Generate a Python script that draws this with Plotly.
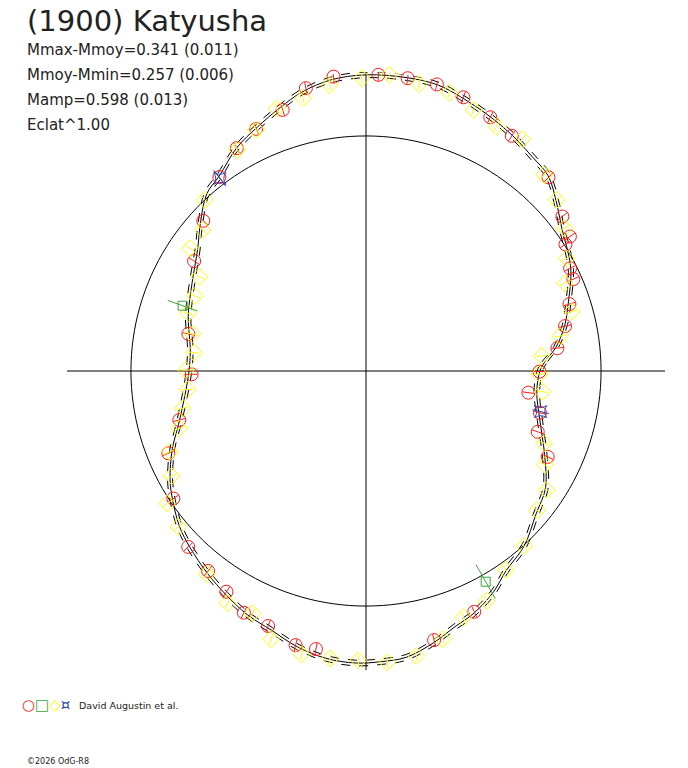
import plotly.graph_objects as go

# Lightcurve shape: phase angle (deg) and relative flux radius (mean circle = 1)
curve_theta = [0, 3, 7, 13, 19, 26, 31, 36, 41, 47, 52, 58, 64, 71, 76, 82, 90,
               97, 103, 108, 114, 120, 127, 132, 139, 144, 153, 163, 173, 180,
               188, 196, 202, 209, 214, 220, 225, 232, 238, 244, 250, 256, 262,
               268, 273, 278, 284, 289, 294, 300, 305, 312, 320, 327, 335, 344,
               353, 360]
curve_r = [0.740, 0.762, 0.813, 0.868, 0.911, 0.970, 1.000, 1.030, 1.077, 1.136,
           1.153, 1.179, 1.204, 1.234, 1.255, 1.260, 1.260, 1.247, 1.217, 1.179,
           1.136, 1.098, 1.038, 1.013, 0.936, 0.885, 0.830, 0.791, 0.753, 0.753,
           0.779, 0.830, 0.889, 0.953, 0.991, 1.034, 1.060, 1.094, 1.123, 1.153,
           1.174, 1.209, 1.234, 1.243, 1.238, 1.230, 1.191, 1.153, 1.128, 1.085,
           1.038, 1.004, 0.945, 0.911, 0.838, 0.770, 0.732, 0.740]
curve_sigma = 0.012

# observations, one list per session
red_theta = [96.3, 102.0, 107.7, 114.4, 120.1, 127.1, 87.6, 81.9, 76.1, 70.4,
             63.9, 58.2, 46.7, 38.2, 33.4, 32.4, 26.7, 23.9, 18.2, 12.7, 6.8,
             359.8, 352.4, 346.5, 340.5, 334.7, 294.2, 284.2, 231.7, 237.7,
             243.2, 249.0, 255.6, 259.8, 181.1, 194.7, 202.6, 213.5, 224.7,
             137.3, 147.4, 168.2]
red_r = [1.260, 1.230, 1.166, 1.131, 1.096, 1.034, 1.261, 1.258, 1.256, 1.236,
         1.202, 1.177, 1.132, 1.063, 1.039, 1.005, 0.972, 0.965, 0.911, 0.868,
         0.820, 0.738, 0.697, 0.761, 0.775, 0.855, 1.123, 1.181, 1.084, 1.111,
         1.152, 1.162, 1.204, 1.202, 0.742, 0.821, 0.911, 0.983, 1.064, 0.942,
         0.868, 0.772]
red_err = 0.026

yellow_theta = [97.2, 103.0, 108.8, 114.5, 120.2, 90.8, 85.5, 79.5, 73.3, 67.6,
                61.9, 56.0, 47.8, 41.9, 35.7, 29.3, 23.8, 16.1, 10.2, 4.9, 359.0,
                353.3, 337.9, 332.3, 326.6, 320.9, 312.1, 305.1, 297.7, 291.6,
                286.0, 231.9, 239.2, 244.9, 250.5, 257.2, 262.9, 268.5, 274.2,
                280.0, 173.9, 179.7, 185.9, 191.5, 197.1, 202.4, 208.4, 213.7,
                219.7, 133.3, 139.2, 145.1, 150.5, 156.3, 162.0, 168.0]
yellow_r = [1.226, 1.191, 1.180, 1.128, 1.088, 1.246, 1.264, 1.242, 1.236, 1.201,
            1.179, 1.190, 1.127, 1.090, 1.040, 0.979, 0.925, 0.911, 0.839, 0.750,
            0.738, 0.757, 0.818, 0.860, 0.921, 0.939, 1.003, 1.035, 1.105, 1.127,
            1.187, 1.098, 1.151, 1.138, 1.210, 1.236, 1.232, 1.231, 1.243, 1.231,
            0.735, 0.766, 0.763, 0.794, 0.831, 0.902, 0.940, 1.016, 1.038, 1.000,
            0.918, 0.913, 0.815, 0.795, 0.795, 0.754]
yellow_err = 0.022

green_theta = [160.4, 299.6]
green_r = [0.828, 1.031]
green_err = [0.067, 0.083]

blue_theta = [127.2, 346.9]
blue_r = [1.029, 0.763]
blue_err = [0.043, 0.036]

R_MAX = 1.272

W, H = 688, 768
cx, cy, rad = 366, 371, 299


def err_segments(theta, r, err):
    tt, rr = [], []
    for i in range(len(theta)):
        e = err[i] if isinstance(err, list) else err
        tt += [theta[i], theta[i], None]
        rr += [r[i] - e, r[i] + e, None]
    return tt, rr


fig = go.Figure()

# crosshair and mean circle
fig.add_trace(go.Scatterpolar(theta=[180, 0], r=[R_MAX, R_MAX], mode="lines",
                              line=dict(color="black", width=1)))
fig.add_trace(go.Scatterpolar(theta=[90, 270], r=[R_MAX, R_MAX], mode="lines",
                              line=dict(color="black", width=1)))
circ_t = list(range(0, 361, 2))
fig.add_trace(go.Scatterpolar(theta=circ_t, r=[1.0] * len(circ_t), mode="lines",
                              line=dict(color="black", width=1)))

# fitted curve with uncertainty
for off, dash in [(-curve_sigma, "dash"), (curve_sigma, "dash"), (0, "solid")]:
    fig.add_trace(go.Scatterpolar(
        theta=curve_theta, r=[v + off for v in curve_r], mode="lines",
        line=dict(color="black", width=1, dash=dash, shape="spline")))

groups = [
    (red_theta, red_r, red_err, "#ff1a1a", "circle-open", 13),
    (yellow_theta, yellow_r, yellow_err, "#ffff00", "diamond-open", 13),
    (green_theta, green_r, green_err, "#3aa83a", "square-open", 9),
    (blue_theta, blue_r, blue_err, "#2f47b0", "star-square-open", 11),
]
for th, rr, ee, col, sym, sz in groups:
    et, er = err_segments(th, rr, ee)
    fig.add_trace(go.Scatterpolar(theta=et, r=er, mode="lines",
                                  line=dict(color=col, width=1)))
    fig.add_trace(go.Scatterpolar(theta=th, r=rr, mode="markers",
                                  marker=dict(symbol=sym, size=sz, color=col,
                                              line=dict(color=col, width=1))))

txt = "#222222"
font = "DejaVu Sans"
annots = [
    dict(text="(1900) Katyusha", x=25, y=21, size=29),
    dict(text="Mmax-Mmoy=0.341 (0.011)", x=25, y=50, size=15),
    dict(text="Mmoy-Mmin=0.257 (0.006)", x=25, y=75, size=15),
    dict(text="Mamp=0.598 (0.013)", x=25, y=100, size=15),
    dict(text="Eclat^1.00", x=25, y=125, size=15),
    dict(text="David Augustin et al.", x=77, y=705, size=9.5),
    dict(text="\u00a92026 OdG-R8", x=25, y=761, size=8),
]
for a in annots:
    fig.add_annotation(text=a["text"], x=a["x"] / W, y=1 - a["y"] / H,
                       xref="paper", yref="paper", xanchor="left", yanchor="middle",
                       showarrow=False, font=dict(family=font, size=a["size"], color=txt))

legend_sym = ("<span style='color:#ff1a1a'>\u25cb</span>"
              "<span style='color:#3aa83a'>\u25a1</span>"
              "<span style='color:#ffff00'>\u25c7</span>"
              "<span style='color:#2f47b0'>\u00a4</span>")
fig.add_annotation(text=legend_sym, x=20 / W, y=1 - 705 / H, xref="paper", yref="paper",
                   xanchor="left", yanchor="middle", showarrow=False,
                   font=dict(family=font, size=15))

fig.update_layout(
    width=W, height=H,
    margin=dict(l=0, r=0, t=0, b=0),
    paper_bgcolor="white",
    showlegend=False,
    polar=dict(
        domain=dict(x=[(cx - rad) / W, (cx + rad) / W],
                    y=[1 - (cy + rad) / H, 1 - (cy - rad) / H]),
        bgcolor="white",
        radialaxis=dict(visible=False, range=[0, R_MAX]),
        angularaxis=dict(visible=False, rotation=0, direction="counterclockwise"),
    ),
)

fig.write_html("out.html", config={"displayModeBar": False},
               post_script="document.body.style.margin='0';")
